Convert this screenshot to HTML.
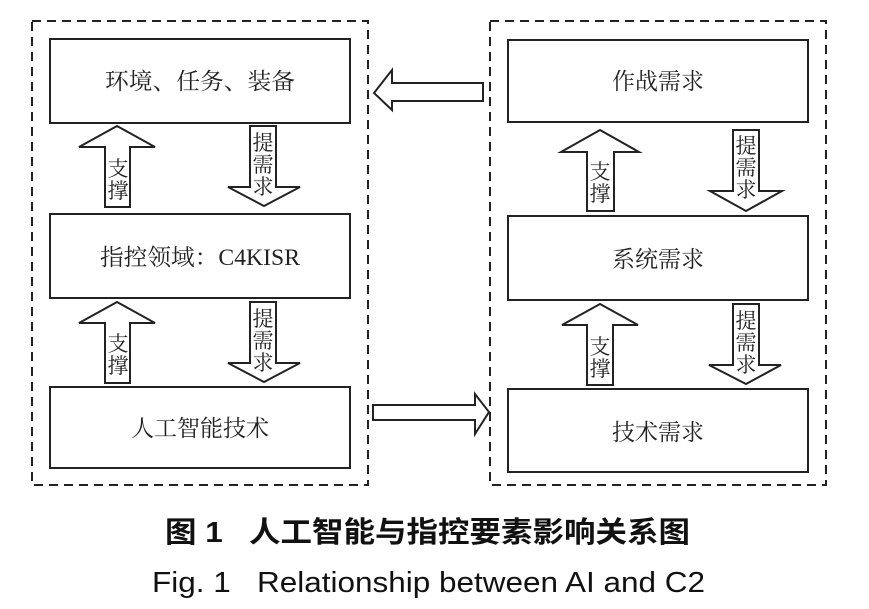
<!DOCTYPE html>
<html><head><meta charset="utf-8"><style>
html,body{margin:0;padding:0;background:#fff;}
svg{display:block;}
</style></head><body>
<svg width="869" height="609" viewBox="0 0 869 609" xmlns="http://www.w3.org/2000/svg">
<g fill="none" stroke="#222" stroke-width="2" stroke-dasharray="9,6">
<rect x="32" y="21" width="336" height="464"/>
<rect x="490" y="21" width="336" height="464"/>
</g>
<g fill="#fff" stroke="#222" stroke-width="2">
<rect x="50" y="39" width="300" height="84"/>
<rect x="50" y="214" width="300" height="84"/>
<rect x="50" y="387" width="300" height="81"/>
<rect x="508" y="40" width="300" height="82"/>
<rect x="508" y="216" width="300" height="84"/>
<rect x="508" y="389" width="300" height="83"/>
<polygon points="117,126 155,147 130,147 130,207 105,207 105,147 79,147"/>
<polygon points="117,302 155,323 130,323 130,383 105,383 105,323 79,323"/>
<polygon points="250,126 276,126 276,187 300,187 264,206 228,187 250,187"/>
<polygon points="250,302 276,302 276,363 300,363 264,382 228,363 250,363"/>
<polygon points="600,130 639,152 614,152 614,211 587,211 587,152 561,152"/>
<polygon points="600,304 638,325 613,325 613,385 587,385 587,325 562,325"/>
<polygon points="733,130 759,130 759,191 782,191 746,211 710,191 733,191"/>
<polygon points="733,304 759,304 759,365 781,365 746,384 709,365 733,365"/>
<polygon points="374,93 392,70 392,83 483,83 483,101 392,101 392,110"/>
<polygon points="373,405 475,405 475,394 489,412 475,434 475,420 373,420"/>
</g>
<g font-family="'Liberation Serif','Noto Serif CJK SC',serif" font-size="23" fill="#222" text-anchor="middle">
<text x="200" y="89" textLength="190" lengthAdjust="spacingAndGlyphs">环境、任务、装备</text>
<text x="200" y="265" textLength="200" lengthAdjust="spacingAndGlyphs">指控领域：C4KISR</text>
<text x="200" y="436">人工智能技术</text>
<text x="658" y="89">作战需求</text>
<text x="658" y="267">系统需求</text>
<text x="658" y="440">技术需求</text>
</g>
<g font-family="'Liberation Serif','Noto Serif CJK SC',serif" font-size="21" fill="#222" text-anchor="middle">
<text x="118" y="176">支</text><text x="118" y="198">撑</text>
<text x="263" y="150">提</text><text x="263" y="172">需</text><text x="263" y="194">求</text>
<text x="118" y="351">支</text><text x="118" y="373">撑</text>
<text x="263" y="326">提</text><text x="263" y="348">需</text><text x="263" y="370">求</text>
<text x="600" y="179">支</text><text x="600" y="201">撑</text>
<text x="746" y="153">提</text><text x="746" y="175">需</text><text x="746" y="197">求</text>
<text x="600" y="354">支</text><text x="600" y="376">撑</text>
<text x="746" y="328">提</text><text x="746" y="350">需</text><text x="746" y="372">求</text>
</g>
<text x="165" y="542" textLength="525" lengthAdjust="spacingAndGlyphs" font-family="'Liberation Sans','Noto Sans CJK SC',sans-serif" font-size="29" font-weight="bold" fill="#111" xml:space="preserve">图 1   人工智能与指控要素影响关系图</text>
<text x="152" y="592" textLength="553" lengthAdjust="spacingAndGlyphs" font-family="'Liberation Sans',sans-serif" font-size="29" fill="#111" xml:space="preserve">Fig. 1   Relationship between AI and C2</text>
</svg>
</body></html>
